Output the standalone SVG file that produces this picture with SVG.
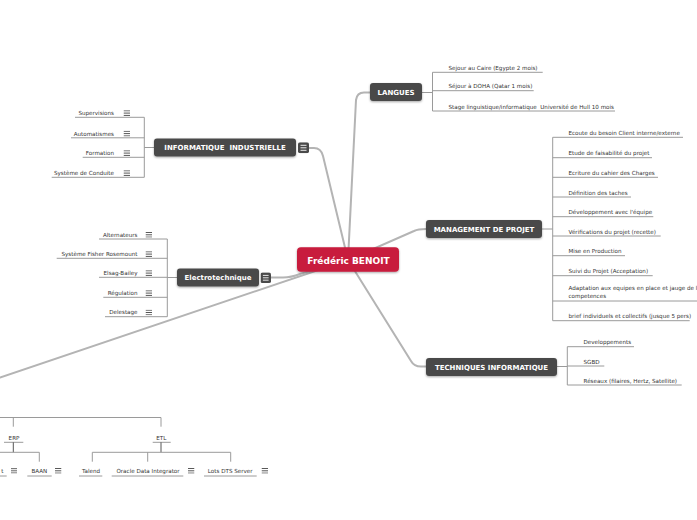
<svg xmlns="http://www.w3.org/2000/svg" xmlns:xlink="http://www.w3.org/1999/xlink" width="697" height="520" viewBox="0 0 697 520">
<defs>
<style>
.main{fill:none;stroke:#b4b4b4;stroke-width:2;stroke-linecap:round}
.sub{fill:none;stroke:#9a9a9a;stroke-width:1}
.dark{fill:none;stroke:#555;stroke-width:1}
.t{font-family:"DejaVu Sans",Verdana,sans-serif;font-size:5.6px;fill:#333}
.e{text-anchor:end}
.m{text-anchor:middle}
.nt{font-family:"DejaVu Sans",Verdana,sans-serif;font-weight:bold;font-size:7px;fill:#fff;text-anchor:middle}
.node{fill:#4a4a4a}
.root{fill:#c81e3c}
</style>
<filter id="sh" x="-10%" y="-20%" width="120%" height="160%"><feDropShadow dx="0" dy="1" stdDeviation="0.8" flood-opacity="0.35"/></filter>
<symbol id="menu" viewBox="0 0 7 6"><path d="M0 0.5H7M0 3H7M0 5.5H7" stroke="#333" stroke-width="0.9"/></symbol>
<symbol id="box" viewBox="0 0 11 11"><rect width="11" height="11" rx="2" fill="#4a4a4a"/><path d="M2.5 3H8.5M2.5 5.5H8.5M2.5 8H8.5" stroke="#fff" stroke-width="0.9"/></symbol>
</defs>
<rect width="697" height="520" fill="#fff"/>

<g id="connectors">
<path class="main" d="M348 260 L356 100 Q357 92.5 364 92.5 L370 92.5"/>
<path class="main" d="M348 260 L414 231 Q418 229 426 229"/>
<path class="main" d="M348 260 L411 361 Q414 366.5 421 366.5 L426 366.5"/>
<path class="main" d="M348 260 L323 156 Q321 148 314 148 L309 148"/>
<path class="main" d="M348 260 L300 274 Q291 277.5 283 277.5 L271 277.5"/>
<path class="main" d="M348 260 L0 377.5"/>
<!-- LANGUES -->
<path class="sub" d="M422 92.5H432.5M432.5 72.3V111M432.5 72.3H542.7M432.5 90.7H533.7M432.5 111H615"/>
<!-- MANAGEMENT -->
<path class="sub" d="M542 229H552.7M552.7 137.3V320.7M552.7 137.3H683M552.7 157.7H652M552.7 177.3H658M552.7 197H631M552.7 216.7H653.3M552.7 236H660.7M552.7 255.7H625M552.7 275.7H652.7M552.7 301H697M552.7 320.7H689.7"/>
<!-- TECHNIQUES -->
<path class="sub" d="M557 366.5H567.3M567.3 346.7V385M567.3 346.7H634M567.3 366H604.3M567.3 385H681.7"/>
<!-- INFORMATIQUE INDUSTRIELLE -->
<path class="sub" d="M154 147.5H144.3M144.3 117.3V177.3M144.3 117.3H75M144.3 137.8H71M144.3 157.3H82.7M144.3 177.3H51.7"/>
<!-- ELECTROTECHNIQUE -->
<path class="sub" d="M177 277.5H167.3M167.3 239V316.7M167.3 239H99M167.3 258.3H56.7M167.3 277.3H99M167.3 297.3H103.3M167.3 316.7H105"/>
<!-- bottom-left tree -->
<path class="sub" d="M0 417.5H161M13.3 417.5V426.7M161 417.5V426.7M4 442.3H23.3M152.7 442.3H170.7"/>
<path class="dark" d="M13.3 442.3V452.3M161 442.3V452.3"/>
<path class="sub" d="M0 452.3H39.3M39.3 452.3V461.7M92.3 452.3H230.7M92.3 452.3V461.7M147.7 452.3V461.7M230.7 452.3V461.7"/>
<path class="sub" d="M0 476H6.7M27.3 476H51.7M79 476H102.3M111.7 476H183.3M204 476H256.7"/>
</g>

<g id="root">
<rect class="root" x="297" y="247.3" width="102" height="24.4" rx="4" filter="url(#sh)"/>
<text class="nt" x="348.5" y="264" style="font-size:9px">Frédéric BENOIT</text>
</g>

<g id="langues">
<rect class="node" x="370" y="83" width="52" height="18" rx="3" filter="url(#sh)"/>
<text class="nt" x="396" y="94.5">LANGUES</text>
<text class="t" x="448.5" y="70">Sejour au Caire (Egypte 2 mois)</text>
<text class="t" x="448.5" y="88.4">Séjour à DOHA (Qatar 1 mois)</text>
<text class="t" x="448.5" y="108.7" xml:space="preserve">Stage linguistique/informatique  Université de Hull 10 mois</text>
</g>

<g id="management">
<rect class="node" x="426" y="220" width="116" height="18" rx="3" filter="url(#sh)"/>
<text class="nt" x="484" y="231.5">MANAGEMENT DE PROJET</text>
<text class="t" x="568.5" y="135">Ecoute du besoin Client interne/externe</text>
<text class="t" x="568.5" y="155.4">Etude de faisabilité du projet</text>
<text class="t" x="568.5" y="175">Ecriture du cahier des Charges</text>
<text class="t" x="568.5" y="194.7">Définition des taches</text>
<text class="t" x="568.5" y="214.4">Développement avec l'équipe</text>
<text class="t" x="568.5" y="233.7">Vérifications du projet (recette)</text>
<text class="t" x="568.5" y="253.4">Mise en Production</text>
<text class="t" x="568.5" y="273.4">Suivi du Projet (Acceptation)</text>
<text class="t" x="568.5" y="290.3">Adaptation aux equipes en place et jauge de les</text>
<text class="t" x="568.5" y="297.7">competences</text>
<text class="t" x="568.5" y="318.4">brief individuels et collectifs (jusque 5 pers)</text>
</g>

<g id="techniques">
<rect class="node" x="426" y="358" width="131" height="18" rx="3" filter="url(#sh)"/>
<text class="nt" x="491.5" y="369.5">TECHNIQUES INFORMATIQUE</text>
<text class="t" x="583.5" y="344.4">Developpements</text>
<text class="t" x="583.5" y="363.7">SGBD</text>
<text class="t" x="583.5" y="382.7">Réseaux (filaires, Hertz, Satellite)</text>
</g>

<g id="informatique-industrielle">
<rect class="node" x="154" y="138.5" width="142" height="18" rx="3" filter="url(#sh)"/>
<text class="nt" x="225" y="150" xml:space="preserve">INFORMATIQUE  INDUSTRIELLE</text>
<use href="#box" x="298" y="142.3" width="11" height="11"/>
<text class="t e" x="114" y="115">Supervisions</text>
<use href="#menu" x="123.5" y="110.3" width="6.5" height="5.6"/>
<text class="t e" x="114" y="135.5">Automatismes</text>
<use href="#menu" x="123.5" y="130.8" width="6.5" height="5.6"/>
<text class="t e" x="114" y="155">Formation</text>
<use href="#menu" x="123.5" y="150.3" width="6.5" height="5.6"/>
<text class="t e" x="114" y="175">Système de Conduite</text>
<use href="#menu" x="123.5" y="170.3" width="6.5" height="5.6"/>
</g>

<g id="electrotechnique">
<rect class="node" x="177" y="268.5" width="82" height="18" rx="3" filter="url(#sh)"/>
<text class="nt" x="218" y="280">Electrotechnique</text>
<use href="#box" x="260.5" y="272.3" width="10.5" height="11"/>
<text class="t e" x="137.5" y="236.7">Alternateurs</text>
<use href="#menu" x="145.5" y="232" width="6.5" height="5.6"/>
<text class="t e" x="137.5" y="256">Système Fisher Rosemount</text>
<use href="#menu" x="145.5" y="251.3" width="6.5" height="5.6"/>
<text class="t e" x="137.5" y="275">Elsag-Bailey</text>
<use href="#menu" x="145.5" y="270.3" width="6.5" height="5.6"/>
<text class="t e" x="137.5" y="295">Régulation</text>
<use href="#menu" x="145.5" y="290.3" width="6.5" height="5.6"/>
<text class="t e" x="137.5" y="314.4">Delestage</text>
<use href="#menu" x="145.5" y="309.7" width="6.5" height="5.6"/>
</g>

<g id="erp">
<text class="t m" x="14" y="439.5">ERP</text>
<text class="t e" x="3.5" y="472.7">t</text>
<use href="#menu" x="11" y="468" width="6" height="5.6"/>
<text class="t m" x="39.3" y="472.7">BAAN</text>
<use href="#menu" x="55" y="468" width="6.5" height="5.6"/>
</g>

<g id="etl">
<text class="t m" x="161.3" y="439.5">ETL</text>
<text class="t m" x="91" y="472.7">Talend</text>
<text class="t m" x="148" y="472.7">Oracle Data Integrator</text>
<use href="#menu" x="188" y="468" width="6.5" height="5.6"/>
<text class="t m" x="230.2" y="472.7">Lots DTS Server</text>
<use href="#menu" x="261.5" y="468" width="6.5" height="5.6"/>
</g>
</svg>
